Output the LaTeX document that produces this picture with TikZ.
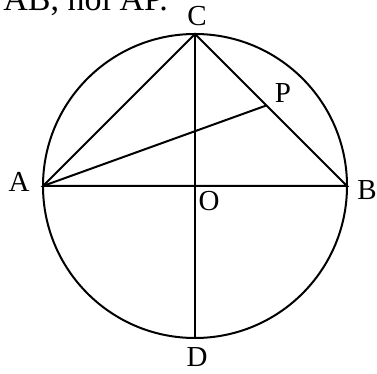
\documentclass[tikz,border=0pt]{standalone}
\usepackage{fontspec}
\setmainfont{Liberation Serif}
\usetikzlibrary{calc}
\tikzset{
  seg/.style={line width=2pt},
  lbl/.style={inner sep=0pt, font=\fontsize{29}{34}\selectfont},
}

\begin{document}
\begin{tikzpicture}[x=1pt,y=1pt]
\useasboundingbox (0,0) rectangle (377,374);

% Points on the circle
\coordinate (O) at (195,188);
\coordinate (A) at (43,188);
\coordinate (B) at (347,188);
\coordinate (C) at (195,340);
\coordinate (D) at (195,36);
\coordinate (P) at ($(C)!0.47!(B)$);

% Circle and chords
\draw[seg] (O) circle[radius=152];
\draw[seg] (A) -- (B);
\draw[seg] (C) -- (D);
\draw[seg] (A) -- (C) -- (B) -- cycle;
\draw[seg] (A) -- (P);

% Labels
\node[lbl] (la) at (19,192) {A};
\node[lbl] (lb) at (367,184) {B};
\node[lbl] (lc) at (197,358) {C};
\node[lbl] (ld) at (197,17) {D};
\node[lbl] (lo) at (209,173) {O};
\node[lbl] (lp) at (283,281) {P};

% Cut-off text line above
\node[inner sep=0pt, anchor=base east, font=\fontsize{34}{40}\selectfont]
  (txt) at (168,363) {AB, nối AP.};

\end{tikzpicture}
\end{document}
